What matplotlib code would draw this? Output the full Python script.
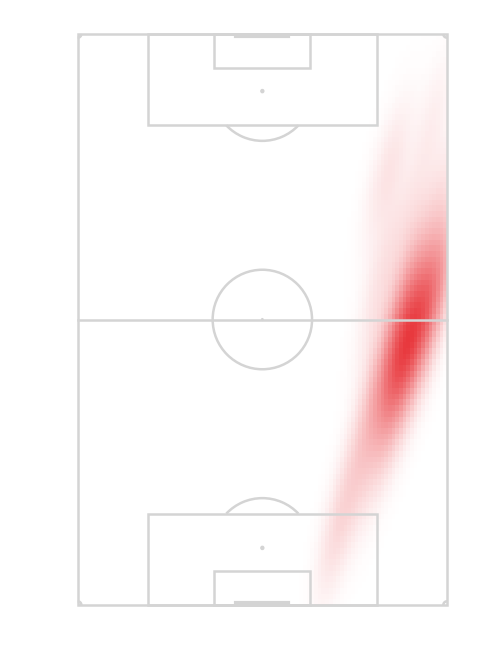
import numpy as np
import matplotlib
matplotlib.use("Agg")
import matplotlib.pyplot as plt
from matplotlib.patches import Rectangle, Ellipse, Arc
from matplotlib.colors import LinearSegmentedColormap

# Event locations, wyscout-style coords (0-100): x across the pitch, y along it
event_x = [96, 86, 98, 90, 97, 82, 84, 80,
           99, 90, 96.5, 92, 99, 89.5, 93, 96.5, 87.5, 94, 89.5, 96, 86.5, 90,
           93, 83.5, 90, 85.5, 92, 82.5, 86, 89, 79, 85,
           91, 88, 86.5, 93, 84,
           79, 83.5, 74.5, 77,
           70, 70]
event_y = [15, 22, 27, 32, 36, 26, 38, 48,
           40, 41, 42, 43, 44, 45, 46, 47, 48, 49, 50, 51, 52, 53,
           54, 55, 56, 57, 58, 59, 60, 62, 64, 66,
           52.5, 56.5, 60.5, 49.5, 63,
           69, 72, 76, 80,
           85, 89]

line_color = "#d4d4d4"
heat_cmap = LinearSegmentedColormap.from_list("heat", ["#ffffff", "#e8383d"])

fig = plt.figure(figsize=(5, 6.5), dpi=100)

# where the pitch sits in the 500x650 picture (pixels)
left_px, right_px, top_px, bottom_px = 77.7, 447.0, 34.0, 605.0
ux = (right_px - left_px) / 100
uy = (bottom_px - top_px) / 100
pad = 3
ax = fig.add_axes([
    (left_px - pad * ux) / 500,
    (650 - bottom_px - pad * uy) / 650,
    (100 + 2 * pad) * ux / 500,
    (100 + 2 * pad) * uy / 650,
])
ax.set_xlim(-pad, 100 + pad)
ax.set_ylim(100 + pad, -pad)
ax.axis("off")

# gaussian kde (scott's rule) on a 100x100 grid
pts = np.vstack([event_x, event_y]).astype(float)
n = pts.shape[1]
factor = n ** (-1 / 6)
inv = np.linalg.inv(np.cov(pts) * factor ** 2)
centers = np.linspace(0.5, 99.5, 100)
X, Y = np.meshgrid(centers, centers)
dx = X[..., None] - pts[0]
dy = Y[..., None] - pts[1]
q = inv[0, 0] * dx ** 2 + 2 * inv[0, 1] * dx * dy + inv[1, 1] * dy ** 2
dens = np.exp(-0.5 * q).sum(-1)
edges = np.linspace(0, 100, 101)
ax.pcolormesh(edges, edges, dens, cmap=heat_cmap, shading="flat", zorder=1)

lw = 1.8
kw = dict(fill=False, edgecolor=line_color, lw=lw, zorder=3)

# outline and halfway line
ax.add_patch(Rectangle((0, 0), 100, 100, **kw))
ax.plot([0, 100], [50, 50], color=line_color, lw=lw, zorder=3)

# centre circle (9.15m on a 68x105 pitch)
rx = 9.15 / 68 * 100
ry = 9.15 / 105 * 100
ax.add_patch(Ellipse((50, 50), 2 * rx, 2 * ry, **kw))
ax.add_patch(Ellipse((50, 50), 0.4, 0.3, color=line_color, zorder=3))

# penalty arc meets the box 6 units past the spot
half_w = rx * np.sqrt(1 - (6 / ry) ** 2)
ang = np.degrees(np.arctan2(half_w, 6))

for end in (0, 100):
    s = 1 if end == 0 else -1
    # penalty area and six-yard box
    ax.add_patch(Rectangle((19, end), 62, 16 * s, **kw))
    ax.add_patch(Rectangle((37, end), 26, 6 * s, **kw))
    # penalty spot
    ax.add_patch(Ellipse((50, end + 10 * s), 0.8, 0.55, color=line_color, zorder=3))
    # penalty arc
    mid = 90 if end == 0 else 270
    ax.add_patch(Arc((50, end + 10 * s), 2 * rx, 2 * ry, theta1=mid - ang, theta2=mid + ang,
                     color=line_color, lw=lw, zorder=3))
    # goal
    ax.plot([43, 57], [end + 0.3 * s, end + 0.3 * s], color=line_color, lw=3, zorder=3)

# corner arcs
for cx, cy, t1 in [(0, 0, 0), (100, 0, 90), (100, 100, 180), (0, 100, 270)]:
    ax.add_patch(Arc((cx, cy), 2.0, 1.3, theta1=t1, theta2=t1 + 90,
                     color=line_color, lw=lw, zorder=3))

fig.savefig("out.png", dpi=100, facecolor="white")
